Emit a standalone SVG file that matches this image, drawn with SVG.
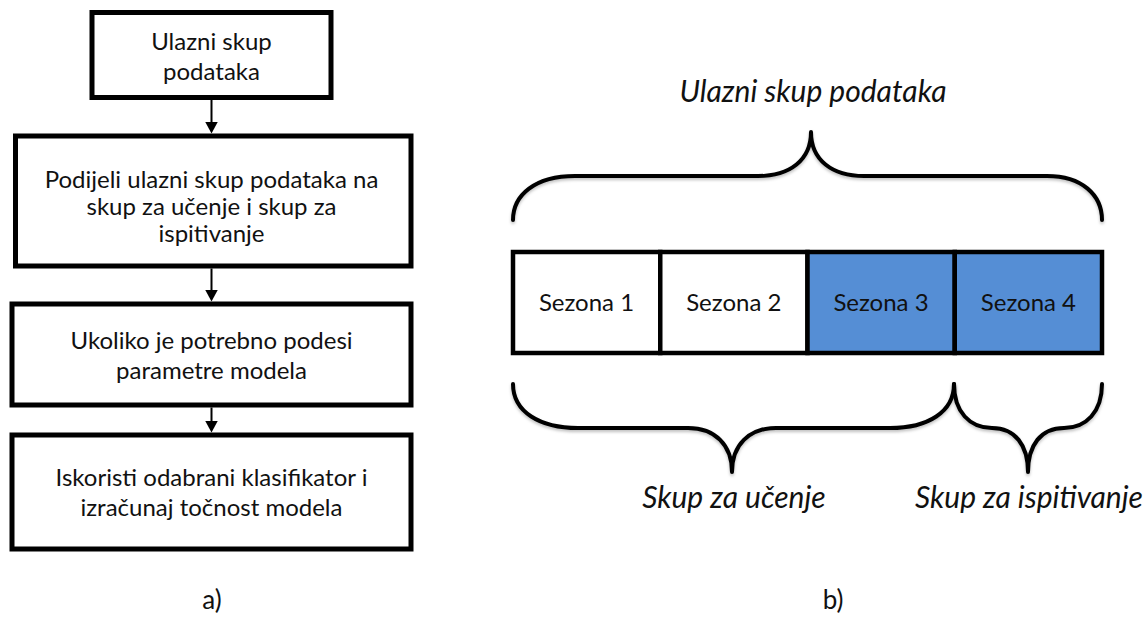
<svg xmlns="http://www.w3.org/2000/svg" width="1148" height="621" viewBox="0 0 1148 621">
<defs>
<style>
.box{fill:#fff;stroke:#000;stroke-width:5}
.cell{stroke:#000;stroke-width:4.5}
.w{fill:#fff}
.b{fill:#558ED5}
.t{font-family:Lato,"Liberation Sans",sans-serif;font-size:24px;fill:#111;text-anchor:middle}
.it{font-family:Lato,"Liberation Sans",sans-serif;font-size:30px;font-style:italic;fill:#111;text-anchor:middle}
.brace{fill:none;stroke:#000;stroke-width:4;stroke-linecap:round;stroke-linejoin:round;filter:url(#sh)}
.conn{stroke:#000;stroke-width:2;fill:none;marker-end:url(#ah)}
</style>
<marker id="ah" viewBox="0 0 12 13" markerWidth="12" markerHeight="13" markerUnits="userSpaceOnUse" refX="8" refY="6.5" orient="auto">
<path d="M0,0 L12,6.5 L0,13 z" fill="#000"/>
</marker>
<filter id="sh" x="-5%" y="-20%" width="110%" height="150%">
<feDropShadow dx="0" dy="2" stdDeviation="1.5" flood-color="#000" flood-opacity="0.25"/>
</filter>
</defs>

<g id="n1">
<rect class="box" x="92" y="12.5" width="239" height="85"/>
<text class="t" x="211.5" y="50">Ulazni skup</text>
<text class="t" x="211.5" y="80">podataka</text>
</g>
<g id="n2">
<rect class="box" x="15.5" y="136" width="395.5" height="130"/>
<text class="t" x="211.5" y="188">Podijeli ulazni skup podataka na</text>
<text class="t" x="211.5" y="215">skup za učenje i skup za</text>
<text class="t" x="211.5" y="242">ispitivanje</text>
</g>
<g id="n3">
<rect class="box" x="12" y="304" width="399" height="101"/>
<text class="t" x="211.5" y="349">Ukoliko je potrebno podesi</text>
<text class="t" x="211.5" y="379">parametre modela</text>
</g>
<g id="n4">
<rect class="box" x="12" y="435" width="399" height="114"/>
<text class="t" x="211.5" y="486">Iskoristi odabrani klasifikator i</text>
<text class="t" x="211.5" y="516">izračunaj točnost modela</text>
</g>

<g id="connectors">
<line class="conn" x1="211.5" y1="100" x2="211.5" y2="129.5"/>
<line class="conn" x1="211.5" y1="268.5" x2="211.5" y2="297.5"/>
<line class="conn" x1="211.5" y1="407.5" x2="211.5" y2="428.5"/>
</g>

<text class="t" x="212" y="609" style="font-size:26px">a)</text>

<g id="bar">
<rect class="cell w" x="513" y="252" width="147.25" height="101"/>
<rect class="cell w" x="660.25" y="252" width="147.25" height="101"/>
<rect class="cell b" x="807.5" y="252" width="147.25" height="101"/>
<rect class="cell b" x="954.75" y="252" width="147.25" height="101"/>
<text class="t" x="586.5" y="311">Sezona 1</text>
<text class="t" x="733.8" y="311">Sezona 2</text>
<text class="t" x="881" y="311">Sezona 3</text>
<text class="t" x="1028.4" y="311">Sezona 4</text>
</g>

<g id="braces">
<path class="brace" d="M513 220 C513 195 535 176 575 176 L758 176 C790 176 811 160 811 132 C811 160 832 176 864 176 L1047 176 C1082 176 1102 195 1102 220"/>
<path class="brace" d="M513 384 C513 412 540 428 578 428 L688 428 C715 428 732 445 732 472 C732 445 749 428 776 428 L890 428 C928 428 954 412 954 384"/>
<path class="brace" d="M954 384 C954 412 970 428 992 428 C1015 428 1028 445 1028 472 C1028 445 1041 428 1064 428 C1086 428 1102 412 1102 384"/>
</g>

<text class="it" x="813" y="102">Ulazni skup podataka</text>
<text class="it" x="734" y="508">Skup za učenje</text>
<text class="it" x="1029" y="508">Skup za ispitivanje</text>
<text class="t" x="833" y="609" style="font-size:26px">b)</text>
</svg>
